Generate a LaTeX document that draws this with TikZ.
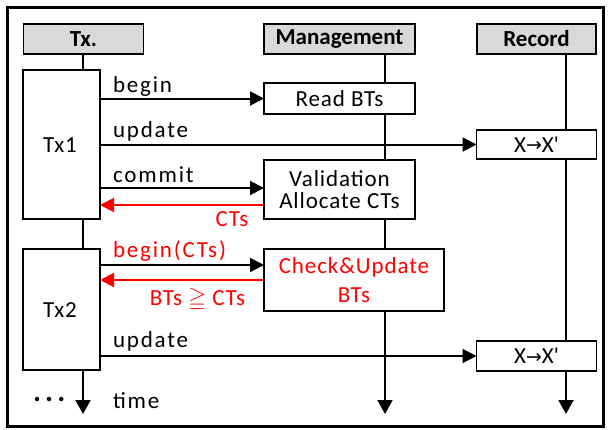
\documentclass[tikz,border=0pt]{standalone}
\usepackage{fontspec}
\usepackage{amssymb}
\setmainfont{Carlito}
\newfontfamily\arrowfont{DejaVu Sans}
\usetikzlibrary{arrows.meta,calc}
\definecolor{headgray}{HTML}{D9D9D9}
\newcommand{\xmap}{X{\arrowfont\fontsize{19}{22}\selectfont\raisebox{0.5pt}{→}}X\textquotesingle}

\begin{document}
\begin{tikzpicture}[x=1pt,y=-1pt,
  every node/.style={inner sep=0pt, outer sep=0pt},
  txt/.style={font=\fontsize{23}{22}\selectfont\addfontfeature{LetterSpace=4}},
  lbl/.style={font=\fontsize{23}{22}\selectfont\addfontfeature{LetterSpace=8}},
  head/.style={draw, line width=1.9pt, fill=headgray, minimum height=30pt,
    font=\fontsize{23}{23}\selectfont\bfseries},
  box/.style={draw, line width=1.9pt, fill=white, align=center, txt},
  msg/.style={line width=2pt, -{Triangle[length=14pt,width=14pt]}},
  reply/.style={msg, red},
  flow/.style={line width=2pt, -{Triangle[length=14pt,width=15pt]}},
]
\useasboundingbox (0,0) rectangle (608,429);
\draw[line width=3pt] (7,7) rectangle (603,426);

% column headers
\node[head, minimum width=120pt] (hTx) at (83.5,39) {Tx.};
\node[head, minimum width=151pt] (hMg) at (339.5,39) {Management};
\node[head, minimum width=119pt] (hRc) at (536.5,39) {Record};

% lifelines with time arrows
\coordinate (txEnd) at (83,414);
\coordinate (mgEnd) at (385,414);
\coordinate (rcEnd) at (566,414);
\draw[flow] (hTx.south -| txEnd) -- (txEnd);
\draw[flow] (hMg.south -| mgEnd) -- (mgEnd);
\draw[flow] (hRc.south -| rcEnd) -- (rcEnd);

% activation boxes
\node[box, minimum width=77pt, minimum height=149pt] (tx1) at (61.5,144.5) {};
\node[txt, anchor=base] (tx1lbl) at (60,152) {Tx1};
\node[box, minimum width=77pt, minimum height=121pt] (tx2) at (61.5,309.5) {};
\node[txt, anchor=base] (tx2lbl) at (60,317) {Tx2};

\node[box, minimum width=151pt, minimum height=31pt] (rb) at (339.5,98.5) {Read BTs};
\node[box, minimum width=151pt, minimum height=59pt] (val) at (339.5,189.5) {Validation\\Allocate CTs};
\node[box, minimum width=180pt, minimum height=62pt, text=red] (chk) at (354,280) {Check\&Update\\[7pt]BTs};
\node[box, minimum width=120pt, minimum height=29pt] (x1) at (536.5,144.5) {\xmap};
\node[box, minimum width=120pt, minimum height=30pt] (x2) at (536.5,356) {\xmap};

% messages
\coordinate (cmtIn) at (264,188);
\coordinate (ctsOut) at (264,205);
\coordinate (bctsIn) at (264,265);
\draw[msg] (tx1.east |- rb.west) -- (rb.west);
\draw[msg] (tx1.east |- x1.west) -- (x1.west);
\draw[msg] (tx1.east |- cmtIn) -- (cmtIn);
\draw[reply] (ctsOut) -- (tx1.east |- ctsOut);
\draw[msg] (tx2.east |- bctsIn) -- (bctsIn);
\draw[reply] (chk.west) -- (tx2.east |- chk.west);
\draw[msg] (tx2.east |- x2.west) -- (x2.west);

% message labels
\node[lbl, anchor=base west] (lb1) at (113,92) {begin};
\node[lbl, anchor=base west] (lu1) at (113,137) {update};
\node[lbl, anchor=base west] (lc1) at (113,182) {commit};
\node[txt, anchor=base, text=red] (lcts) at (232,226) {CTs};
\node[lbl, anchor=base west, text=red] (lb2) at (113,257) {begin(CTs)};
\node[txt, anchor=base, text=red] (lge) at (197.5,305) {BTs \ensuremath{\geqq} CTs};
\node[lbl, anchor=base west] (lu2) at (113,347) {update};
\node[lbl, anchor=base west] (ltime) at (113,408) {time};
\node[anchor=base west, font=\fontsize{30}{30}\selectfont\bfseries\addfontfeature{LetterSpace=14}] (ldots) at (33,401.5) {...};
\end{tikzpicture}
\end{document}
